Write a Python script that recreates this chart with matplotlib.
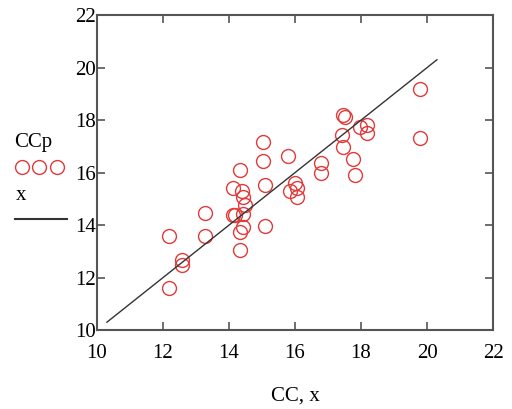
import matplotlib
matplotlib.use("Agg")
import matplotlib.pyplot as plt
from matplotlib.lines import Line2D

plt.rcParams["font.family"] = ["Liberation Serif", "DejaVu Serif"]

# Measured vs. predicted values
CC = [19.79, 19.79, 17.46, 17.50, 17.41, 17.46, 17.97, 18.17, 18.17, 17.77,
      17.82, 16.80, 16.80, 15.04, 15.04, 15.80, 14.33, 14.13, 14.38, 14.43,
      14.48, 14.13, 14.43, 15.09, 16.00, 16.05, 15.85, 16.05, 14.43, 15.09,
      13.27, 12.19, 13.27, 12.57, 12.57, 12.19, 14.18, 14.33, 14.33]
CCp = [19.18, 17.30, 18.19, 18.10, 17.43, 16.98, 17.75, 17.81, 17.49, 16.50,
       15.90, 16.35, 15.97, 17.17, 16.45, 16.63, 16.10, 15.40, 15.28, 15.06,
       14.76, 14.38, 14.44, 15.52, 15.59, 15.40, 15.28, 15.08, 13.94, 13.96,
       14.45, 13.58, 13.58, 12.67, 12.48, 11.59, 14.38, 13.74, 13.05]

# Reference line x = x
x = [10.3, 20.3]

RED = "#e23a3a"
LINE = "#333333"
FRAME = "#555555"

fig = plt.figure(figsize=(5.12, 4.09), dpi=100)
ax = fig.add_axes([0.1895, 0.193, 0.7735, 0.77])

ax.plot(CC, CCp, linestyle="none", marker="o", markersize=10,
        markerfacecolor="none", markeredgecolor=RED, markeredgewidth=1.0)
ax.plot(x, x, color=LINE, linewidth=1.0)

ax.set_xlim(10, 22)
ax.set_ylim(10, 22)
ax.set_xticks(range(10, 23, 2))
ax.set_yticks(range(10, 23, 2))
ax.tick_params(direction="in", length=6, width=1.2, color=FRAME,
               top=True, right=True, labelsize=15)
ax.tick_params(axis="x", pad=10)
ax.tick_params(axis="y", pad=1)
for s in ax.spines.values():
    s.set_color(FRAME)
    s.set_linewidth(1.5)

ax.set_xlabel("CC, x", fontsize=15, labelpad=17)

# Left-side legend block
fig.text(14 / 512, 1 - 143 / 409, "CCp", fontsize=15, va="center", ha="left")
for px in (22, 39, 57):
    fig.add_artist(Line2D([px / 512], [1 - 167 / 409], marker="o",
                          markersize=10, markerfacecolor="none",
                          markeredgecolor=RED, markeredgewidth=1.0,
                          transform=fig.transFigure))
fig.text(16 / 512, 1 - 196 / 409, "x", fontsize=15, va="center", ha="left")
fig.add_artist(Line2D([15 / 512, 67 / 512], [1 - 219 / 409] * 2,
                      color=LINE, linewidth=1.5, transform=fig.transFigure))

fig.savefig("out.png", dpi=100, facecolor="white")
